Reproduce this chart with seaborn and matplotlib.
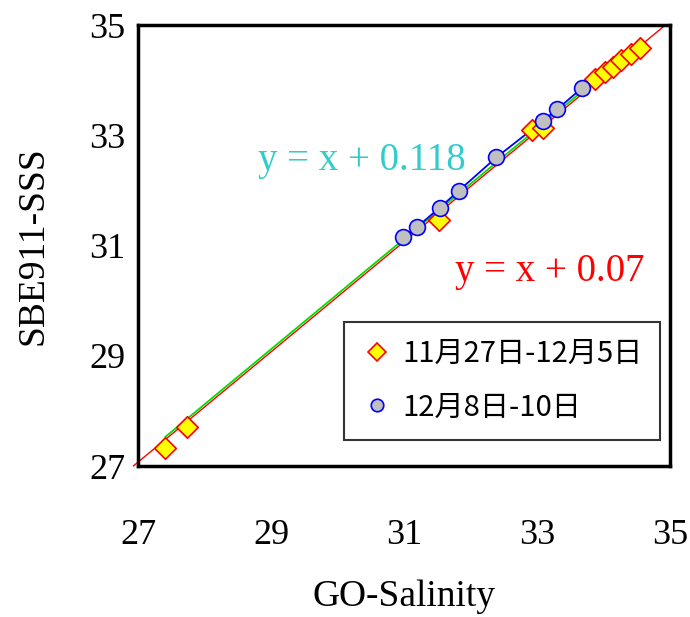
import matplotlib
matplotlib.use("Agg")
import matplotlib.pyplot as plt
import seaborn as sns
import pandas as pd
from matplotlib.lines import Line2D

# ---- data ----
series1_label = "11月27日-12月5日"
series2_label = "12月8日-10日"
s1_x = [27.41, 27.74, 31.52, 32.92, 33.09, 33.87, 34.02, 34.15, 34.27, 34.42, 34.55]
s1_y = [27.32, 27.70, 31.46, 33.10, 33.13, 34.02, 34.14, 34.24, 34.36, 34.48, 34.58]
s2_x = [30.99, 31.19, 31.54, 31.82, 32.39, 33.09, 33.30, 33.67]
s2_y = [31.16, 31.33, 31.69, 31.99, 32.60, 33.26, 33.47, 33.85]
fit_all_offset = 0.07
fit_s2_offset = 0.118
x_ticks = [27, 29, 31, 33, 35]
y_ticks = [27, 29, 31, 33, 35]
x_label = "GO-Salinity"
y_label = "SBE911-SSS"

sns.set_theme(style="white")
plt.rcParams['font.family'] = ['Liberation Serif', 'DejaVu Serif']
plt.rcParams['text.color'] = 'black'
plt.rcParams['axes.labelcolor'] = 'black'

df1 = pd.DataFrame({"x": s1_x, "y": s1_y})
df2 = pd.DataFrame({"x": s2_x, "y": s2_y})

fig = plt.figure(figsize=(6.9, 6.17), dpi=100)
ax = fig.add_axes([0.2, 0.2447, 0.771, 0.7147])

# trend lines
lx = pd.DataFrame({"x": [26.93, 34.93]})
lx["y"] = lx["x"] + fit_all_offset
ax.plot(lx["x"], lx["y"], color="#FF0000", lw=1.0, clip_on=False, zorder=2)
gx = pd.DataFrame({"x": [min(s1_x), max(s1_x)]})
gx["y"] = gx["x"] + fit_s2_offset
ax.plot(gx["x"], gx["y"], color="#00E000", lw=1.3, zorder=2)

sns.lineplot(data=df2, x="x", y="y", ax=ax, color="#0000FF", lw=1.3,
             estimator=None, sort=False, zorder=3)

sns.scatterplot(data=df1, x="x", y="y", ax=ax, marker="D", s=120,
                color="#FFFF00", edgecolor="#FF0000", linewidth=1.2, zorder=4)
sns.scatterplot(data=df2, x="x", y="y", ax=ax, marker="o", s=130,
                color="#C0C0C0", edgecolor="#0000FF", linewidth=1.2, zorder=5)

ax.set_xlim(27, 35)
ax.set_ylim(27, 35)
ax.set_xticks(x_ticks)
ax.set_yticks(y_ticks)
ax.tick_params(axis="both", direction="in", length=7, width=2.2, colors="black",
               labelsize=26)
ax.tick_params(axis="x", pad=38)
ax.tick_params(axis="y", pad=9)
for sp in ax.spines.values():
    sp.set_visible(True)
    sp.set_color("black")
    sp.set_linewidth(2.5)

ax.set_xlabel(x_label, fontsize=27, labelpad=20, color="black")
ax.set_ylabel(y_label, fontsize=27, labelpad=28, color="black")

ax.text(28.80, 32.55, "y = x + 0.118", color="#33CCCC", fontsize=28,
        va="center", ha="left")
ax.text(31.77, 30.52, "y = x + 0.07", color="#FF0000", fontsize=28,
        va="center", ha="left")

handles = [
    Line2D([], [], marker="D", linestyle="none", markersize=9,
           markerfacecolor="#FFFF00", markeredgecolor="#FF0000", markeredgewidth=1.2),
    Line2D([], [], marker="o", linestyle="none", markersize=9,
           markerfacecolor="#C0C0C0", markeredgecolor="#0000FF", markeredgewidth=1.2),
]
leg = ax.legend(handles, [series1_label, series2_label],
                loc="upper left", bbox_to_anchor=(0.387, 0.327),
                prop={"family": ["Noto Sans CJK SC", "DejaVu Sans"], "size": 21},
                frameon=True, fancybox=False, edgecolor="black",
                borderpad=0.6, labelspacing=0.8, handletextpad=0.3,
                handlelength=1.1, borderaxespad=0)
leg.get_frame().set_linewidth(1.5)
for t in leg.get_texts():
    t.set_color("black")

fig.savefig("out.png", dpi=100)
